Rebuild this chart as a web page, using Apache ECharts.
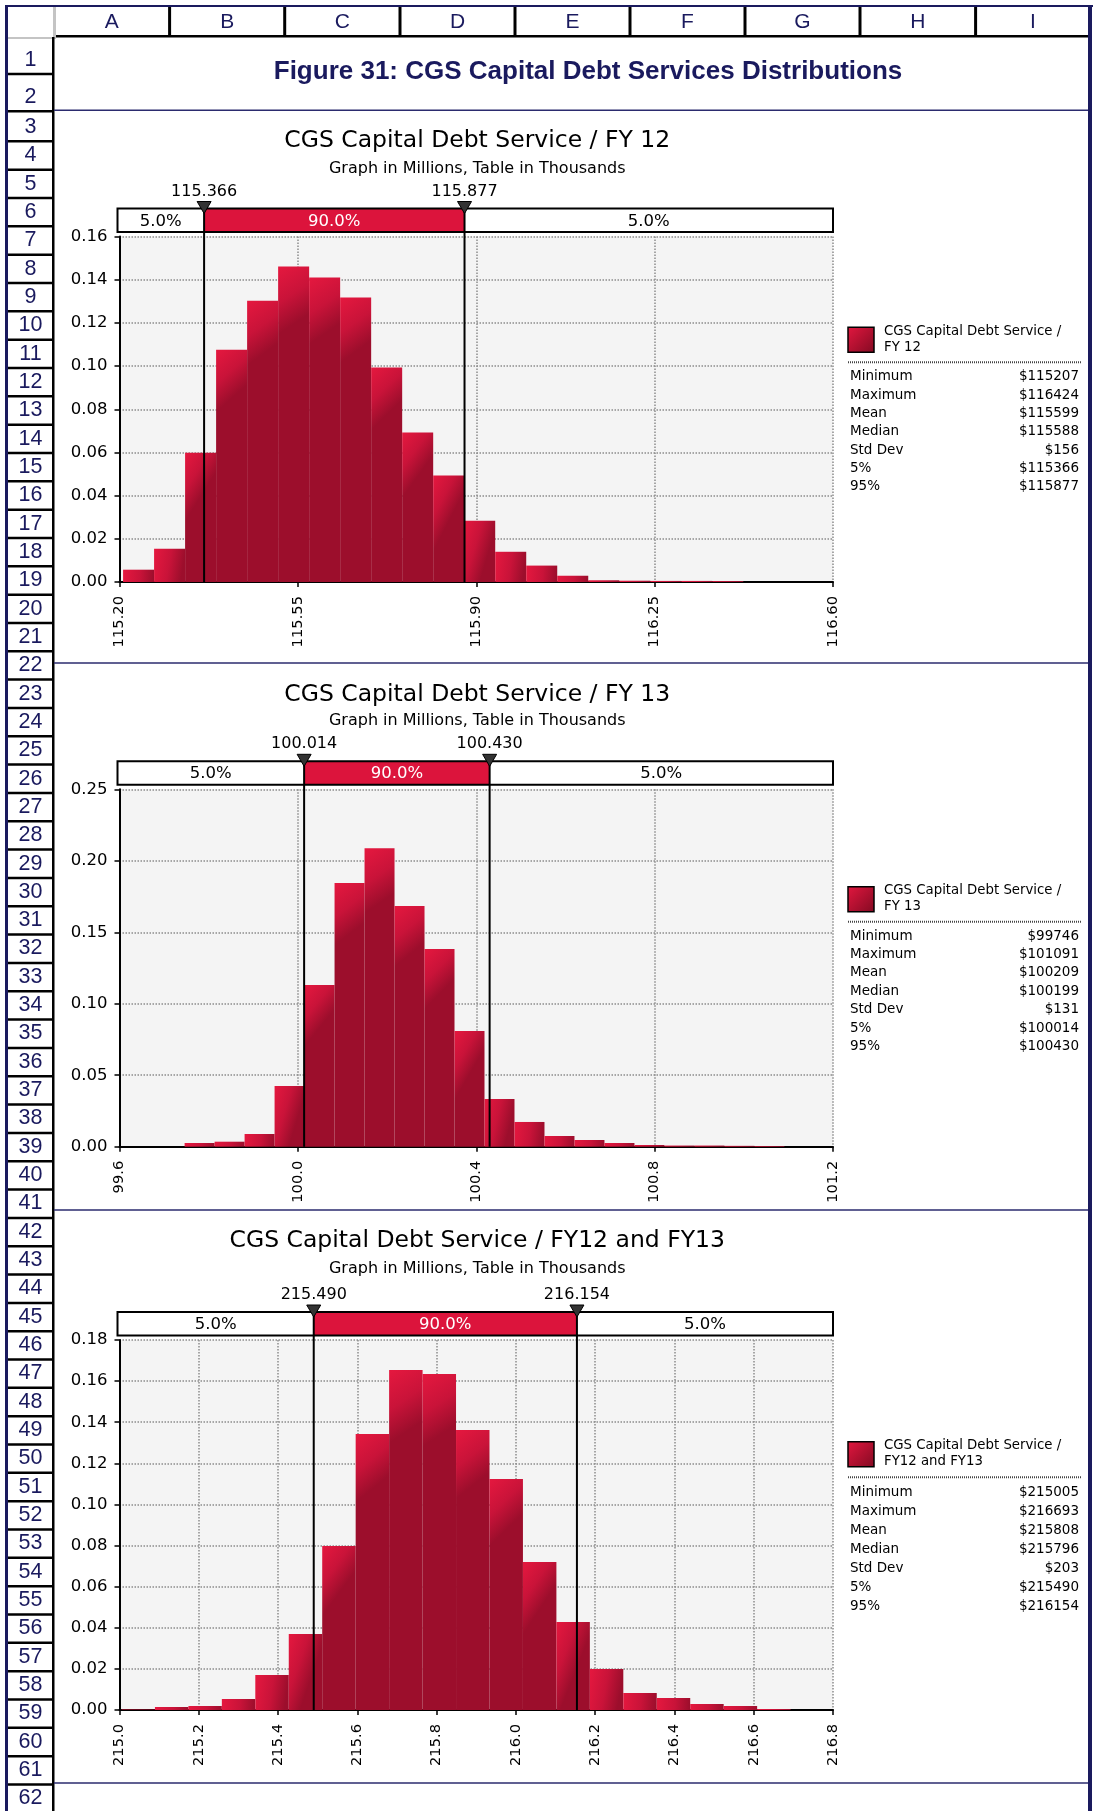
<!DOCTYPE html>
<html>
<head>
<meta charset="utf-8">
<title>Figure 31: CGS Capital Debt Services Distributions</title>
<script src="https://cdn.jsdelivr.net/npm/echarts@6/dist/echarts.min.js"></script>
<style>
  html, body { margin: 0; padding: 0; background: #fff; }
  #main { width: 1094px; height: 1811px; }
</style>
</head>
<body>
<div id="main"></div>
<script>
// relative frequency of each of the 20 equal bins between min and max
const fy12Freq = [0.0057, 0.0154, 0.0599, 0.1076, 0.1303, 0.1461, 0.1410, 0.1317, 0.0993, 0.0692,
  0.0493, 0.0284, 0.0140, 0.0076, 0.0029, 0.0008, 0.0006, 0.0005, 0.0005, 0.0004];
const fy13Freq = [0.0026, 0.0035, 0.0089, 0.0425, 0.1131, 0.1845, 0.2087, 0.1684, 0.1383, 0.0809,
  0.0334, 0.0173, 0.0075, 0.0047, 0.0026, 0.0012, 0.0008, 0.0008, 0.0006, 0.0005];
const fyBothFreq = [0.0003, 0.0015, 0.0019, 0.0054, 0.0170, 0.0370, 0.0798, 0.1343, 0.1654, 0.1635,
  0.1362, 0.1124, 0.0720, 0.0428, 0.0199, 0.0083, 0.0058, 0.0029, 0.0019, 0.0005];

// simulated min / max (millions)
const fy12MinMax = [115.207, 116.424];
const fy13MinMax = [99.746, 101.091];
const fyBothMinMax = [215.005, 216.693];

// 5% and 95% percentiles (millions)
const fy12Pct = [115.366, 115.877];
const fy13Pct = [100.014, 100.430];
const fyBothPct = [215.490, 216.154];

// axis ticks: [min, max, step]
const fy12XTicks = [115.20, 116.60, 0.35];
const fy13XTicks = [99.6, 101.2, 0.4];
const fyBothXTicks = [215.0, 216.8, 0.2];
const fy12YTicks = [0, 0.16, 0.02];
const fy13YTicks = [0, 0.25, 0.05];
const fyBothYTicks = [0, 0.18, 0.02];

// stats table (thousands)
const statNames = ['Minimum', 'Maximum', 'Mean', 'Median', 'Std Dev', '5%', '95%'];
const fy12Stats = ['$115207', '$116424', '$115599', '$115588', '$156', '$115366', '$115877'];
const fy13Stats = ['$99746', '$101091', '$100209', '$100199', '$131', '$100014', '$100430'];
const fyBothStats = ['$215005', '$216693', '$215808', '$215796', '$203', '$215490', '$216154'];

const bandShares = ['5.0%', '90.0%', '5.0%'];
const columnLetters = ['A', 'B', 'C', 'D', 'E', 'F', 'G', 'H', 'I'];

const NAVY = '#1a1a5e';
const CHART_FONT = '"DejaVu Sans", Verdana, sans-serif';
const SHEET_FONT = '"Liberation Sans", Arial, sans-serif';

const panels = [
  {
    title: 'CGS Capital Debt Service / FY 12', legend: ['CGS Capital Debt Service /', 'FY 12'],
    freq: fy12Freq, minMax: fy12MinMax, pct: fy12Pct, xt: fy12XTicks, yt: fy12YTicks, xDec: 2, stats: fy12Stats,
    top: 236.5, height: 345.5, titleY: 141, subY: 168.5, legY: 327.3, sepY: 362.3, rowY: 376.7, rowH: 18.33
  },
  {
    title: 'CGS Capital Debt Service / FY 13', legend: ['CGS Capital Debt Service /', 'FY 13'],
    freq: fy13Freq, minMax: fy13MinMax, pct: fy13Pct, xt: fy13XTicks, yt: fy13YTicks, xDec: 1, stats: fy13Stats,
    top: 789.3, height: 357.4, titleY: 694.7, subY: 721, legY: 886.7, sepY: 921.7, rowY: 936, rowH: 18.44
  },
  {
    title: 'CGS Capital Debt Service / FY12 and FY13', legend: ['CGS Capital Debt Service /', 'FY12 and FY13'],
    freq: fyBothFreq, minMax: fyBothMinMax, pct: fyBothPct, xt: fyBothXTicks, yt: fyBothYTicks, xDec: 1, stats: fyBothStats,
    top: 1340, height: 370, titleY: 1241.3, subY: 1269, legY: 1441.7, sepY: 1477.3, rowY: 1492.3, rowH: 19.07
  }
];

const GRID_LEFT = 119.5;
const GRID_WIDTH = 713.5;

function round3(v) {
  return Math.round(v * 1000) / 1000;
}

function barFill() {
  return {
    type: 'linear', x: 0, y: 0, x2: 1, y2: 0.15,
    colorStops: [
      { offset: 0, color: '#e5183f' },
      { offset: 0.55, color: '#c91339' },
      { offset: 1, color: '#9c0e2c' }
    ]
  };
}

function txt(x, y, s, font, fill, align) {
  return {
    type: 'text', x: x, y: y,
    style: {
      text: s, font: font, fill: fill,
      align: align || 'center', verticalAlign: 'middle',
      textAlign: align || 'center', textVerticalAlign: 'middle'
    }
  };
}

function box(x, y, w, h, fill) {
  return { type: 'rect', shape: { x: x, y: y, width: w, height: h }, style: { fill: fill } };
}

// histogram bars, placed through the axis scales
function barItem(params, api) {
  const a = api.coord([api.value(0), api.value(2)]);
  const b = api.coord([api.value(1), 0]);
  return {
    type: 'rect',
    shape: { x: a[0], y: a[1], width: b[0] - a[0], height: b[1] - a[1] },
    style: { fill: barFill() }
  };
}

// 5% / 90% / 5% strip, percentile lines and markers
function bandItem(p) {
  return function (params, api) {
    const cs = params.coordSys;
    const left = cs.x - 2;
    const right = cs.x + cs.width;
    const top = cs.y - 28;
    const bot = cs.y - 4.5;
    const mid = (top + bot) / 2;
    const x5 = api.coord([api.value(0), 0])[0];
    const x95 = api.coord([api.value(1), 0])[0];
    const f = '16.5px ' + CHART_FONT;
    const kids = [
      box(left, top, x5 - left, bot - top, '#ffffff'),
      box(x5, top, x95 - x5, bot - top, '#dc143c'),
      box(x95, top, right - x95, bot - top, '#ffffff'),
      {
        type: 'rect', shape: { x: left, y: top, width: right - left, height: bot - top },
        style: { fill: 'none', stroke: '#000', lineWidth: 2 }
      },
      txt((left + x5) / 2, mid + 1, bandShares[0], f, '#000'),
      txt((x5 + x95) / 2, mid + 1, bandShares[1], f, '#ffffff'),
      txt((x95 + right) / 2, mid + 1, bandShares[2], f, '#000')
    ];
    [x5, x95].forEach(function (x, k) {
      kids.push({
        type: 'line', shape: { x1: x, y1: top, x2: x, y2: cs.y + cs.height },
        style: { stroke: '#000', lineWidth: 2 }
      });
      kids.push({
        type: 'polygon', shape: { points: [[x - 7, top - 7], [x + 7, top - 7], [x, top + 5]] },
        style: { fill: '#333', stroke: '#000', lineWidth: 1 }
      });
      kids.push(txt(x, cs.y - 45, p.pct[k].toFixed(3), '16px ' + CHART_FONT, '#000'));
    });
    return { type: 'group', children: kids };
  };
}

const grids = [], xAxes = [], yAxes = [], series = [];
const gridLine = { color: '#8c8c8c', width: 1.5, type: [1.5, 1.5] };

panels.forEach(function (p, i) {
  const base = p.xt[0];
  const span = round3(p.xt[1] - p.xt[0]);
  grids.push({
    left: GRID_LEFT, top: p.top, width: GRID_WIDTH, height: p.height,
    show: true, backgroundColor: '#f4f4f4', borderWidth: 0
  });
  xAxes.push({
    gridIndex: i, type: 'value', min: 0, max: span, interval: p.xt[2],
    axisLine: { onZero: false, lineStyle: { color: '#000', width: 2 } },
    axisTick: { length: 5, lineStyle: { color: '#000', width: 1.5 } },
    axisLabel: {
      rotate: 90, margin: 14, fontSize: 14.7, fontFamily: CHART_FONT, color: '#000',
      formatter: function (v) { return (base + v).toFixed(p.xDec); }
    },
    splitLine: { show: true, lineStyle: gridLine }
  });
  yAxes.push({
    gridIndex: i, type: 'value', min: p.yt[0], max: p.yt[1], interval: p.yt[2],
    axisLine: { show: true, lineStyle: { color: '#000', width: 2 } },
    axisTick: { show: true, length: 5, lineStyle: { color: '#000', width: 1.5 } },
    axisLabel: {
      margin: 12, fontSize: 16.5, fontFamily: CHART_FONT, color: '#000',
      formatter: function (v) { return v.toFixed(2); }
    },
    splitLine: { show: true, lineStyle: gridLine }
  });

  const n = p.freq.length;
  const w = (p.minMax[1] - p.minMax[0]) / n;
  series.push({
    type: 'custom', xAxisIndex: i, yAxisIndex: i, z: 2,
    renderItem: barItem,
    encode: { x: [0, 1], y: 2 },
    data: p.freq.map(function (f, k) {
      return [p.minMax[0] + k * w - base, p.minMax[0] + (k + 1) * w - base, f];
    })
  });
  series.push({
    type: 'custom', xAxisIndex: i, yAxisIndex: i, z: 5, clip: false,
    renderItem: bandItem(p),
    encode: { x: [0, 1], y: 2 },
    data: [[p.pct[0] - base, p.pct[1] - base, 0]]
  });
});

// spreadsheet frame, titles and stats tables
const g = [];

const colSeps = [54, 169.6, 284.7, 400, 515, 630, 745, 860, 975.6, 1090];
g.push(box(5, 5, 1088, 2, NAVY));
g.push(box(5, 5, 3, 1806, NAVY));
g.push(box(1088, 5, 4, 1806, NAVY));
g.push(box(53, 7, 3, 31, '#c4c4c4'));
g.push(box(8, 37, 48, 2, '#c4c4c4'));
g.push(box(56, 35, 1032, 2.5, '#000'));
for (let c = 1; c < colSeps.length - 1; c++) {
  g.push(box(colSeps[c] - 1.5, 7, 3, 29, '#000'));
}
columnLetters.forEach(function (l, c) {
  g.push(txt((colSeps[c] + colSeps[c + 1]) / 2, 22, l, '21px ' + SHEET_FONT, NAVY));
});

g.push(box(52, 37, 2.5, 1774, '#000'));
const rowSeps = [74, 111.3];
for (let k = 3; k <= 61; k++) rowSeps.push(141.3 + (k - 3) * 28.33);
rowSeps.forEach(function (y) {
  g.push(box(8, y - 1.2, 45, 2.5, '#000'));
});
for (let k = 1; k <= 62; k++) {
  const y = k === 1 ? 60.5 : (k === 2 ? 97.5 : 127 + (k - 3) * 28.33);
  g.push(txt(30.5, y, String(k), '21.5px ' + SHEET_FONT, NAVY));
}

[110.3, 663, 1210, 1783].forEach(function (y) {
  g.push(box(54, y - 0.75, 1034, 1.5, '#2b2b6e'));
});

g.push(txt(588, 71.5, 'Figure 31: CGS Capital Debt Services Distributions', 'bold 26px ' + SHEET_FONT, NAVY));

const midX = GRID_LEFT + GRID_WIDTH / 2;
panels.forEach(function (p) {
  g.push(txt(midX + 1, p.titleY, p.title, '23.5px ' + CHART_FONT, '#000'));
  g.push(txt(midX + 1, p.subY, 'Graph in Millions, Table in Thousands', '16px ' + CHART_FONT, '#000'));

  g.push({
    type: 'rect', shape: { x: 848, y: p.legY, width: 26, height: 25 },
    style: {
      fill: {
        type: 'linear', x: 0, y: 0, x2: 1, y2: 1,
        colorStops: [{ offset: 0, color: '#e3173f' }, { offset: 1, color: '#820a22' }]
      },
      stroke: '#000', lineWidth: 1.5
    }
  });
  g.push(txt(884, p.legY + 4, p.legend[0], '13.3px ' + CHART_FONT, '#000', 'left'));
  g.push(txt(884, p.legY + 20, p.legend[1], '13.3px ' + CHART_FONT, '#000', 'left'));
  g.push({
    type: 'line', shape: { x1: 848, y1: p.sepY, x2: 1082, y2: p.sepY },
    style: { stroke: '#444', lineWidth: 2, lineDash: [1, 1] }
  });
  statNames.forEach(function (name, r) {
    const y = p.rowY + r * p.rowH;
    g.push(txt(850, y, name, '13.5px ' + CHART_FONT, '#000', 'left'));
    g.push(txt(1079, y, p.stats[r], '13.5px ' + CHART_FONT, '#000', 'right'));
  });
});

const chart = echarts.init(document.getElementById('main'), null, { renderer: 'canvas' });
chart.setOption({
  animation: false,
  backgroundColor: '#ffffff',
  grid: grids,
  xAxis: xAxes,
  yAxis: yAxes,
  series: series,
  graphic: { elements: g }
});
</script>
</body>
</html>
